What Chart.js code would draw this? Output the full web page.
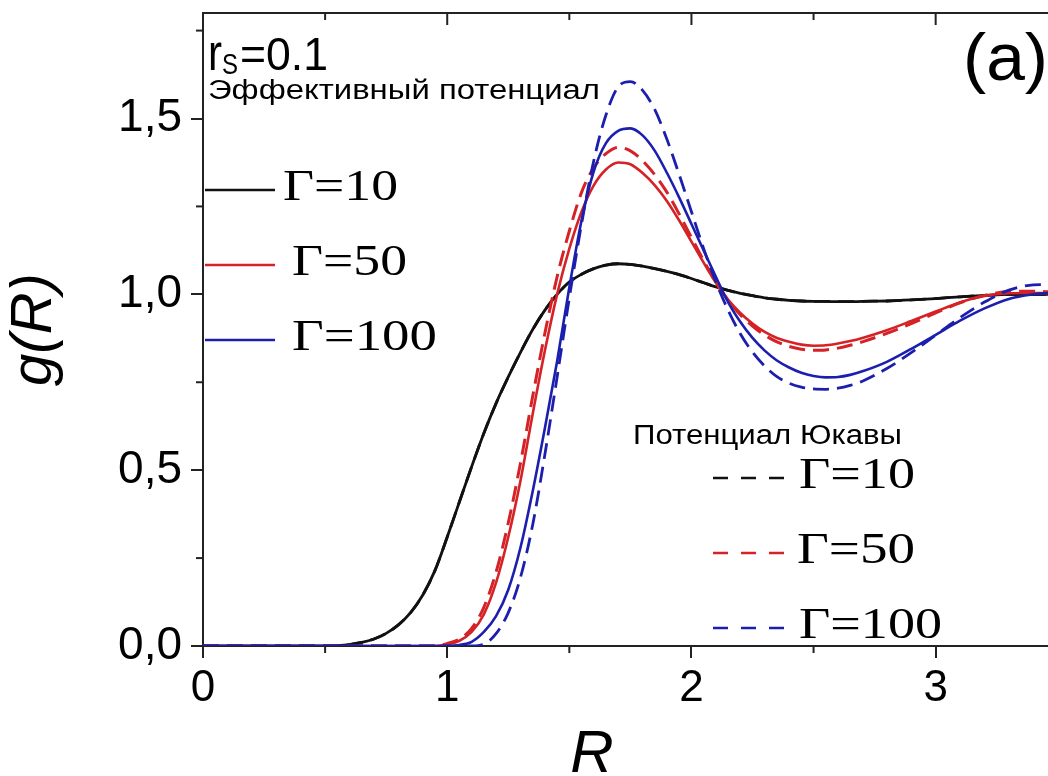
<!DOCTYPE html>
<html>
<head>
<meta charset="utf-8">
<script src="https://cdn.jsdelivr.net/npm/chart.js@4/dist/chart.umd.min.js"></script>
<style>
  html, body { margin: 0; padding: 0; background: #fff; overflow: hidden; }
  #wrap { position: relative; width: 1048px; height: 776px; }
</style>
</head>
<body>
<div id="wrap"><canvas id="gr"></canvas></div>
<script>
// R grid shared by all curves
const R = [0, 0.5, 0.55, 0.6, 0.65, 0.7, 0.75, 0.8, 0.85, 0.9, 0.95,
  1.0, 1.05, 1.1, 1.15, 1.2, 1.25, 1.3, 1.35, 1.4, 1.45,
  1.5, 1.55, 1.6, 1.65, 1.7, 1.75, 1.8, 1.85, 1.9, 1.95,
  2.0, 2.05, 2.1, 2.15, 2.2, 2.25, 2.3, 2.35, 2.4, 2.45,
  2.5, 2.55, 2.6, 2.65, 2.7, 2.8, 2.9, 3.0, 3.1, 3.2, 3.3, 3.4, 3.46];

// effective potential
const effG10 = [0, 0, 0.001, 0.004, 0.01, 0.02, 0.036, 0.06, 0.095, 0.145, 0.215,
  0.31, 0.41, 0.51, 0.605, 0.69, 0.765, 0.835, 0.9, 0.955, 1.0,
  1.035, 1.057, 1.073, 1.083, 1.087, 1.085, 1.08, 1.073, 1.065, 1.056,
  1.045, 1.033, 1.021, 1.011, 1.003, 0.996, 0.99, 0.986, 0.983, 0.981,
  0.98, 0.98, 0.979, 0.979, 0.98, 0.981, 0.984, 0.988, 0.993, 0.997, 1.0, 1.0, 1.0];
const effG50 = [0, 0, 0, 0, 0, 0, 0, 0, 0, 0, 0,
  0.005, 0.015, 0.04, 0.09, 0.18, 0.31, 0.47, 0.66, 0.84, 1.0,
  1.13, 1.235, 1.31, 1.355, 1.375, 1.37, 1.345, 1.31, 1.265, 1.21,
  1.15, 1.09, 1.033, 0.985, 0.947, 0.917, 0.893, 0.876, 0.865, 0.857,
  0.854, 0.855, 0.86, 0.867, 0.876, 0.898, 0.924, 0.951, 0.977, 0.995, 1.003, 1.004, 1.003];
const effG100 = [0, 0, 0, 0, 0, 0, 0, 0, 0, 0, 0,
  0, 0.003, 0.012, 0.04, 0.085, 0.16, 0.28, 0.44, 0.62, 0.81,
  1.02, 1.21, 1.35, 1.43, 1.465, 1.472, 1.452, 1.408, 1.345, 1.275,
  1.2, 1.125, 1.05, 0.978, 0.922, 0.876, 0.84, 0.812, 0.792, 0.777,
  0.768, 0.764, 0.765, 0.771, 0.781, 0.808, 0.845, 0.885, 0.925, 0.96, 0.987, 1.0, 1.004];

// Yukawa potential
const yukG10 = [0, 0, 0.001, 0.004, 0.01, 0.02, 0.036, 0.06, 0.095, 0.145, 0.215,
  0.31, 0.41, 0.51, 0.605, 0.69, 0.765, 0.835, 0.9, 0.955, 1.0,
  1.035, 1.057, 1.073, 1.083, 1.087, 1.085, 1.08, 1.073, 1.065, 1.056,
  1.045, 1.033, 1.021, 1.011, 1.003, 0.996, 0.99, 0.986, 0.983, 0.981,
  0.98, 0.98, 0.979, 0.979, 0.98, 0.981, 0.984, 0.988, 0.993, 0.997, 1.0, 1.0, 1.0];
const yukG50 = [0, 0, 0, 0, 0, 0, 0, 0, 0, 0, 0,
  0.007, 0.02, 0.05, 0.11, 0.21, 0.35, 0.52, 0.71, 0.89, 1.05,
  1.18, 1.29, 1.36, 1.4, 1.418, 1.408, 1.38, 1.34, 1.29, 1.228,
  1.162, 1.096, 1.035, 0.983, 0.942, 0.91, 0.884, 0.865, 0.852, 0.844,
  0.841, 0.842, 0.847, 0.855, 0.865, 0.889, 0.917, 0.947, 0.976, 0.997, 1.008, 1.009, 1.007];
const yukG100 = [0, 0, 0, 0, 0, 0, 0, 0, 0, 0, 0,
  0, 0, 0, 0.005, 0.035, 0.095, 0.195, 0.345, 0.545, 0.765,
  0.99, 1.2, 1.38, 1.51, 1.59, 1.605, 1.58, 1.525, 1.44, 1.34,
  1.235, 1.13, 1.035, 0.955, 0.888, 0.836, 0.796, 0.766, 0.747, 0.736,
  0.731, 0.73, 0.733, 0.741, 0.753, 0.789, 0.834, 0.884, 0.934, 0.978, 1.012, 1.027, 1.028];

const xMajorTicks = [0, 1, 2, 3];
const xMinorTicks = [0.5, 1.5, 2.5];
const yMinorTicks = [0.25, 0.75, 1.25, 1.75];

const gammaLabels = ['Γ=10', 'Γ=50', 'Γ=100'];
const groupEff = 'Эффективный потенциал';
const groupYuk = 'Потенциал Юкавы';

const BLACK = '#111111', RED = '#d42226', BLUE = '#1c1fae';
const SANS = '"Liberation Sans", Arial, sans-serif';
const SERIF = '"Liberation Serif", "Times New Roman", serif';
const CURVE_DASH = [16, 8];

function pts(vals) {
  return R.map((r, i) => ({ x: r, y: vals[i] }));
}

const datasets = [
  { label: groupEff + ' ' + gammaLabels[0], data: pts(effG10), borderColor: BLACK, borderWidth: 2.8 },
  { label: groupYuk + ' ' + gammaLabels[0], data: pts(yukG10), borderColor: BLACK, borderWidth: 2.8, borderDash: CURVE_DASH },
  { label: groupEff + ' ' + gammaLabels[1], data: pts(effG50), borderColor: RED, borderWidth: 2.6 },
  { label: groupYuk + ' ' + gammaLabels[1], data: pts(yukG50), borderColor: RED, borderWidth: 3, borderDash: CURVE_DASH },
  { label: groupEff + ' ' + gammaLabels[2], data: pts(effG100), borderColor: BLUE, borderWidth: 2.6 },
  { label: groupYuk + ' ' + gammaLabels[2], data: pts(yukG100), borderColor: BLUE, borderWidth: 2.8, borderDash: CURVE_DASH },
].map((d, i, all) => ({
  ...d,
  order: all.length - i,
  pointRadius: 0,
  fill: false,
  cubicInterpolationMode: 'monotone',
}));

// stretched text: draws str starting at x on baseline y, squeezed/stretched to width w
function txt(ctx, str, x, y, font, w) {
  ctx.save();
  ctx.font = font;
  ctx.textAlign = 'left';
  ctx.textBaseline = 'alphabetic';
  const m = ctx.measureText(str).width;
  ctx.translate(x, y);
  if (w) ctx.scale(w / m, 1);
  ctx.fillText(str, 0, 0);
  ctx.restore();
}

function seg(ctx, x1, y1, x2, y2) {
  ctx.beginPath();
  ctx.moveTo(x1, y1);
  ctx.lineTo(x2, y2);
  ctx.stroke();
}

const decor = {
  id: 'decor',
  afterDraw(chart) {
    const { ctx, chartArea: a } = chart;
    const x = chart.scales.x, y = chart.scales.y;
    ctx.save();
    ctx.strokeStyle = '#222';
    ctx.lineWidth = 2;
    seg(ctx, a.left, a.top, a.right, a.top);
    xMajorTicks.forEach(v => {
      const px = x.getPixelForValue(v);
      seg(ctx, px, a.top, px, a.top + 12);
    });
    xMinorTicks.forEach(v => {
      const px = x.getPixelForValue(v);
      seg(ctx, px, a.bottom, px, a.bottom + 7);
      seg(ctx, px, a.top, px, a.top + 7);
    });
    yMinorTicks.forEach(v => {
      const py = y.getPixelForValue(v);
      seg(ctx, a.left - 7, py, a.left, py);
    });

    ctx.fillStyle = '#000';
    // r_S = 0.1
    txt(ctx, 'r', 208, 70, '52px ' + SANS, 14);
    txt(ctx, 'S', 222, 74, '30px ' + SANS, 16);
    txt(ctx, '=0.1', 240, 70, '46px ' + SANS, 88);
    txt(ctx, '(a)', 963, 80, '66px ' + SANS, 85);
    txt(ctx, groupEff, 208, 99, '27px ' + SANS, 392);
    txt(ctx, groupYuk, 633, 444, '27px ' + SANS, 269);

    // left legend (solid)
    const eff = [datasets[0], datasets[2], datasets[4]];
    const effY = [190, 265, 340], effTx = [283, 292, 292], effW = [115, 115, 145];
    eff.forEach((d, i) => {
      ctx.strokeStyle = d.borderColor;
      ctx.lineWidth = 2.6;
      ctx.setLineDash([]);
      seg(ctx, 205, effY[i], 275, effY[i]);
      txt(ctx, gammaLabels[i], effTx[i], effY[i] + 10, '45px ' + SERIF, effW[i]);
    });
    // right legend (dashed)
    const yuk = [datasets[1], datasets[3], datasets[5]];
    const yukY = [478, 553, 628], yukTx = [799, 797, 799], yukW = [116, 118, 143];
    yuk.forEach((d, i) => {
      ctx.strokeStyle = d.borderColor;
      ctx.lineWidth = 2.6;
      ctx.setLineDash([15, 13]);
      seg(ctx, 713, yukY[i], 784, yukY[i]);
      ctx.setLineDash([]);
      txt(ctx, gammaLabels[i], yukTx[i], yukY[i] + 10, '45px ' + SERIF, yukW[i]);
    });

    // x axis title
    ctx.font = 'italic 60px ' + SANS;
    ctx.textAlign = 'center';
    ctx.textBaseline = 'alphabetic';
    ctx.fillText('R', 592, 772);
    ctx.restore();
  }
};

new Chart(document.getElementById('gr'), {
  type: 'line',
  data: { datasets },
  options: {
    responsive: true,
    maintainAspectRatio: false,
    animation: false,
    events: [],
    layout: { padding: { top: 13, right: 0, left: 0, bottom: 0 } },
    plugins: { legend: { display: false }, tooltip: { enabled: false } },
    scales: {
      x: {
        type: 'linear',
        min: 0,
        max: 3.46,
        afterFit: s => { s.height = 130; s.paddingLeft = 0; s.paddingRight = 0; },
        border: { display: true, color: '#222', width: 2 },
        grid: { drawOnChartArea: false, drawTicks: true, tickLength: 12, color: '#222', lineWidth: 2 },
        ticks: {
          stepSize: 1,
          includeBounds: false,
          color: '#000',
          padding: 4,
          font: { family: SANS, size: 44 },
          callback: v => String(v),
        },
      },
      y: {
        type: 'linear',
        min: 0,
        max: 1.8,
        afterFit: s => { s.width = 203; s.paddingTop = 0; s.paddingBottom = 0; },
        border: { display: true, color: '#222', width: 2 },
        grid: { drawOnChartArea: false, drawTicks: true, tickLength: 12, color: '#222', lineWidth: 2 },
        ticks: {
          stepSize: 0.5,
          includeBounds: false,
          color: '#000',
          padding: 9,
          font: { family: SANS, size: 46 },
          callback: v => v.toFixed(1).replace('.', ','),
        },
        title: {
          display: true,
          text: 'g(R)',
          color: '#000',
          padding: { top: 0, bottom: 0 },
          font: { family: SANS, size: 58, style: 'italic' },
        },
      },
    },
  },
  plugins: [decor],
});
</script>
</body>
</html>
